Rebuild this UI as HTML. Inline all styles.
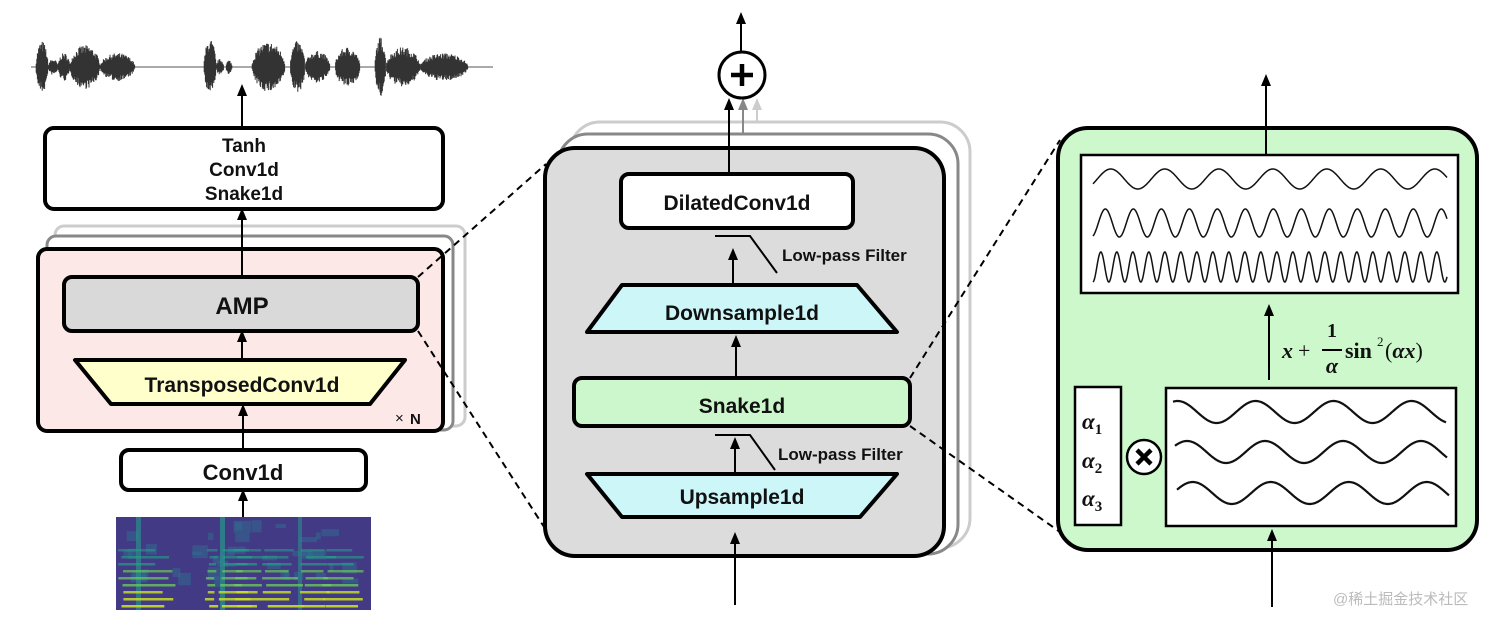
<!DOCTYPE html>
<html><head><meta charset="utf-8">
<style>
html,body{margin:0;padding:0;background:#fff;}
svg{display:block;}
text{font-family:"Liberation Sans",Arial,sans-serif;font-weight:bold;fill:#111;}
</style></head>
<body>
<svg id="s" width="1512" height="628" viewBox="0 0 1512 628" xmlns="http://www.w3.org/2000/svg">
<defs>
<marker id="ah" markerWidth="12" markerHeight="12" refX="6" refY="6" orient="auto" markerUnits="userSpaceOnUse">
<path d="M0,1 L12,6 L0,11 z" fill="#000"/></marker>
<marker id="ahg" markerWidth="12" markerHeight="12" refX="6" refY="6" orient="auto" markerUnits="userSpaceOnUse">
<path d="M0,1 L12,6 L0,11 z" fill="#888"/></marker>
<marker id="ahl" markerWidth="12" markerHeight="12" refX="6" refY="6" orient="auto" markerUnits="userSpaceOnUse">
<path d="M0,1 L12,6 L0,11 z" fill="#ccc"/></marker>
</defs>

<!-- waveform -->
<line x1="31" y1="67" x2="493" y2="67" stroke="#555" stroke-width="1"/>
<g id="wave" stroke="#333" stroke-width="1"></g>

<!-- LEFT PANEL -->
<rect x="45" y="128" width="398" height="81" rx="9" fill="#fff" stroke="#000" stroke-width="4"/>
<text x="244" y="152" text-anchor="middle" font-size="19">Tanh</text>
<text x="244" y="176" text-anchor="middle" font-size="19">Conv1d</text>
<text x="244" y="200" text-anchor="middle" font-size="19">Snake1d</text>

<rect x="55" y="226" width="410" height="200" rx="9" fill="#fff" stroke="#ccc" stroke-width="3"/>
<rect x="47" y="236" width="406" height="194" rx="9" fill="#fff" stroke="#888" stroke-width="3"/>
<rect x="38" y="249" width="405" height="182" rx="9" fill="#fde8e8" stroke="#000" stroke-width="4"/>
<rect x="64" y="277" width="354" height="54" rx="8" fill="#d9d9d9" stroke="#000" stroke-width="4"/>
<text x="242" y="314" text-anchor="middle" font-size="24">AMP</text>
<polygon points="75,360 405,360 370,404 111,404" fill="#ffffcc" stroke="#000" stroke-width="4" stroke-linejoin="round"/>
<text x="242" y="392" text-anchor="middle" font-size="21">TransposedConv1d</text>
<text x="395" y="423" font-size="15" style="font-weight:normal">×</text>
<text x="410" y="424" font-size="15">N</text>
<rect x="121" y="450" width="245" height="40" rx="8" fill="#fff" stroke="#000" stroke-width="4"/>
<text x="243" y="480" text-anchor="middle" font-size="22">Conv1d</text>

<!-- spectrogram -->
<rect x="116" y="517" width="255" height="93" fill="#433a86"/>
<g id="spec"></g>

<g stroke="#000" stroke-width="2" fill="none">
<line x1="242" y1="128" x2="242" y2="90" marker-end="url(#ah)"/>
<line x1="242" y1="277" x2="242" y2="214" marker-end="url(#ah)"/>
<line x1="242" y1="360" x2="242" y2="336" marker-end="url(#ah)"/>
<line x1="243" y1="450" x2="243" y2="410" marker-end="url(#ah)"/>
<line x1="243" y1="517" x2="243" y2="495" marker-end="url(#ah)"/>
</g>

<!-- dashed lines left -->
<g stroke="#000" stroke-width="2" stroke-dasharray="7,5" fill="none">
<line x1="418" y1="277" x2="546" y2="164"/>
<line x1="418" y1="331" x2="546" y2="530"/>
</g>

<!-- MIDDLE PANEL -->
<rect x="570" y="122" width="400" height="426" rx="30" fill="#fff" stroke="#ccc" stroke-width="3"/>
<rect x="558" y="134" width="400" height="420" rx="30" fill="#fff" stroke="#888" stroke-width="3"/>
<rect x="545" y="148" width="399" height="408" rx="30" fill="#dcdcdc" stroke="#000" stroke-width="4"/>

<line x1="757" y1="122" x2="757" y2="104" stroke="#ccc" stroke-width="2" marker-end="url(#ahl)"/>
<line x1="743" y1="134" x2="743" y2="104" stroke="#888" stroke-width="2" marker-end="url(#ahg)"/>
<line x1="729" y1="174" x2="729" y2="104" stroke="#000" stroke-width="2" marker-end="url(#ah)"/>
<circle cx="742" cy="75" r="23" fill="#fff" stroke="#000" stroke-width="3"/>
<path d="M742,64 V86 M731,75 H753" stroke="#000" stroke-width="4.5"/>
<line x1="741" y1="51" x2="741" y2="18" stroke="#000" stroke-width="2" marker-end="url(#ah)"/>

<rect x="621" y="174" width="232" height="54" rx="8" fill="#fff" stroke="#000" stroke-width="4"/>
<text x="737" y="210" text-anchor="middle" font-size="21">DilatedConv1d</text>

<path d="M715,236 H750 L777,273" stroke="#000" stroke-width="2" fill="none"/>
<text x="782" y="261" font-size="17">Low-pass Filter</text>
<line x1="733" y1="283" x2="733" y2="254" stroke="#000" stroke-width="2" marker-end="url(#ah)"/>

<polygon points="622,285 857,285 897,332 587,332" fill="#cdf6f9" stroke="#000" stroke-width="4" stroke-linejoin="round"/>
<text x="742" y="320" text-anchor="middle" font-size="21">Downsample1d</text>
<line x1="736" y1="377" x2="736" y2="341" stroke="#000" stroke-width="2" marker-end="url(#ah)"/>

<rect x="574" y="378" width="336" height="48" rx="8" fill="#ccf6cc" stroke="#000" stroke-width="4"/>
<text x="742" y="413" text-anchor="middle" font-size="21">Snake1d</text>

<path d="M715,435 H750 L775,470" stroke="#000" stroke-width="2" fill="none"/>
<text x="778" y="460" font-size="17">Low-pass Filter</text>
<line x1="735" y1="474" x2="735" y2="443" stroke="#000" stroke-width="2" marker-end="url(#ah)"/>

<polygon points="587,474 897,474 860,517 622,517" fill="#cdf6f9" stroke="#000" stroke-width="4" stroke-linejoin="round"/>
<text x="742" y="504" text-anchor="middle" font-size="21">Upsample1d</text>
<line x1="735" y1="605" x2="735" y2="538" stroke="#000" stroke-width="2" marker-end="url(#ah)"/>

<!-- dashed lines right -->
<g stroke="#000" stroke-width="2" stroke-dasharray="7,5" fill="none">
<line x1="910" y1="378" x2="1060" y2="140"/>
<line x1="910" y1="426" x2="1060" y2="532"/>
</g>

<!-- RIGHT PANEL -->
<rect x="1058" y="128" width="419" height="422" rx="30" fill="#ccf8cc" stroke="#000" stroke-width="4"/>
<rect x="1081" y="155" width="377" height="138" fill="#fff" stroke="#000" stroke-width="2.5"/>
<line x1="1266" y1="155" x2="1266" y2="80" stroke="#000" stroke-width="2" marker-end="url(#ah)"/>
<line x1="1269" y1="380" x2="1269" y2="310" stroke="#000" stroke-width="2" marker-end="url(#ah)"/>
<g>
<text x="1282" y="358" font-size="22" font-style="italic" style="font-family:'Liberation Serif',serif">x</text>
<text x="1298" y="358" font-size="22" style="font-family:'Liberation Serif',serif;font-weight:normal">+</text>
<text x="1332" y="337" font-size="20" text-anchor="middle" style="font-family:'Liberation Serif',serif">1</text>
<line x1="1322" y1="350" x2="1342" y2="350" stroke="#000" stroke-width="2"/>
<text x="1332" y="373" font-size="22" font-style="italic" text-anchor="middle" style="font-family:'Liberation Serif',serif">α</text>
<text x="1345" y="358" font-size="22" style="font-family:'Liberation Serif',serif">sin</text>
<text x="1377" y="346" font-size="13" style="font-family:'Liberation Serif',serif;font-weight:normal">2</text>
<text x="1385" y="358" font-size="22" style="font-family:'Liberation Serif',serif;font-weight:normal">(<tspan font-style="italic" font-weight="bold">αx</tspan>)</text>
</g>
<rect x="1075" y="387" width="46" height="138" fill="#fff" stroke="#000" stroke-width="2.5"/>
<text x="1082" y="429" font-size="23" font-style="italic" style="font-family:'Liberation Serif',serif">α<tspan font-size="15" dy="5" font-style="normal">1</tspan></text>
<text x="1082" y="468" font-size="23" font-style="italic" style="font-family:'Liberation Serif',serif">α<tspan font-size="15" dy="5" font-style="normal">2</tspan></text>
<text x="1082" y="506" font-size="23" font-style="italic" style="font-family:'Liberation Serif',serif">α<tspan font-size="15" dy="5" font-style="normal">3</tspan></text>
<circle cx="1144" cy="457" r="17" fill="#fff" stroke="#000" stroke-width="2.5"/>
<path d="M1137,450 L1151,464 M1151,450 L1137,464" stroke="#000" stroke-width="4.5"/>
<rect x="1166" y="388" width="290" height="138" fill="#fff" stroke="#000" stroke-width="2.5"/>
<g id="sines" stroke="#111" stroke-width="1.5" fill="none"></g>
<g id="sines2" stroke="#111" stroke-width="2.2" fill="none"></g>
<line x1="1272" y1="607" x2="1272" y2="535" stroke="#000" stroke-width="2" marker-end="url(#ah)"/>

<text x="1333" y="604" font-size="15" style="font-weight:normal;fill:#bbb;font-family:'Liberation Sans','Noto Sans CJK SC',sans-serif">@稀土掘金技术社区</text>
</svg>
<script>
(function(){
var NS="http://www.w3.org/2000/svg";
var seed=7;function r(){seed=(seed*16807)%2147483647;return seed/2147483647;}
var segs=[[36,48,26],[48,58,8],[58,70,14],[70,100,22],[100,135,14],[204,216,28],[216,224,8],[226,232,7],[252,285,25],[290,305,26],[305,330,16],[335,360,20],[375,386,30],[386,420,20],[420,468,14]];
function env(x){var a=0;for(var i=0;i<segs.length;i++){var s=segs[i];if(x>=s[0]&&x<=s[1]){var t=(x-s[0])/(s[1]-s[0]);a=Math.max(a,s[2]*Math.pow(Math.sin(Math.PI*t),0.5));}}return a;}
var g=document.getElementById('wave');var d="";
for(var x=32;x<492;x+=0.6){var a=env(x);if(a>0.5){var u=a*(0.55+0.45*r()),l=a*(0.55+0.45*r());d+="M"+x.toFixed(1)+","+(67-u).toFixed(1)+"V"+(67+l).toFixed(1);}}
var p=document.createElementNS(NS,'path');p.setAttribute('d',d);g.appendChild(p);
var sp=document.getElementById('spec');
function rect(x,y,w,h,c,o){var e=document.createElementNS(NS,'rect');e.setAttribute('x',x);e.setAttribute('y',y);e.setAttribute('width',w);e.setAttribute('height',h);e.setAttribute('fill',c);if(o)e.setAttribute('opacity',o);sp.appendChild(e);}
for(var i=0;i<40;i++){rect(116+r()*240,520+r()*60,4+r()*14,3+r()*10,'#2f6d8e',0.5);}
rect(136,517,5,93,'#2a8c8a',0.7);rect(220,517,5,93,'#2a8c8a',0.8);rect(298,517,4,93,'#2a8c8a',0.6);
var cols=[[118,175],[204,215],[218,250],[232,262],[262,300],[300,330],[322,365]];
cols.forEach(function(c){for(var y=605;y>545;y-=7){var fade=(605-y)/60;var col=fade<0.3?'#c8e020':(fade<0.6?'#6cce59':'#22a884');rect(c[0]+r()*6,y,(c[1]-c[0])*(0.6+0.4*r()),2.5,col,0.9-fade*0.4);}});
function sine(id,x0,x1,cy,A,P,ph){var s="";for(var x=x0;x<=x1;x+=0.5){var y=cy-A*Math.sin(2*Math.PI*(x-x0)/P+ph);s+=(s?"L":"M")+x.toFixed(1)+","+y.toFixed(1);}var e=document.createElementNS(NS,'path');e.setAttribute('d',s);document.getElementById(id).appendChild(e);}
sine('sines',1093,1447,179,10,54,-0.5);
sine('sines',1093,1447,223,14,28,-1.2);
sine('sines',1093,1447,267,15,16,-1.5);
sine('sines2',1173,1446,412,11,78,1.2);
sine('sines2',1175,1447,452,11,78,0.6);
sine('sines2',1177,1449,493,11,78,0.3);
})();
</script>
</body></html>
